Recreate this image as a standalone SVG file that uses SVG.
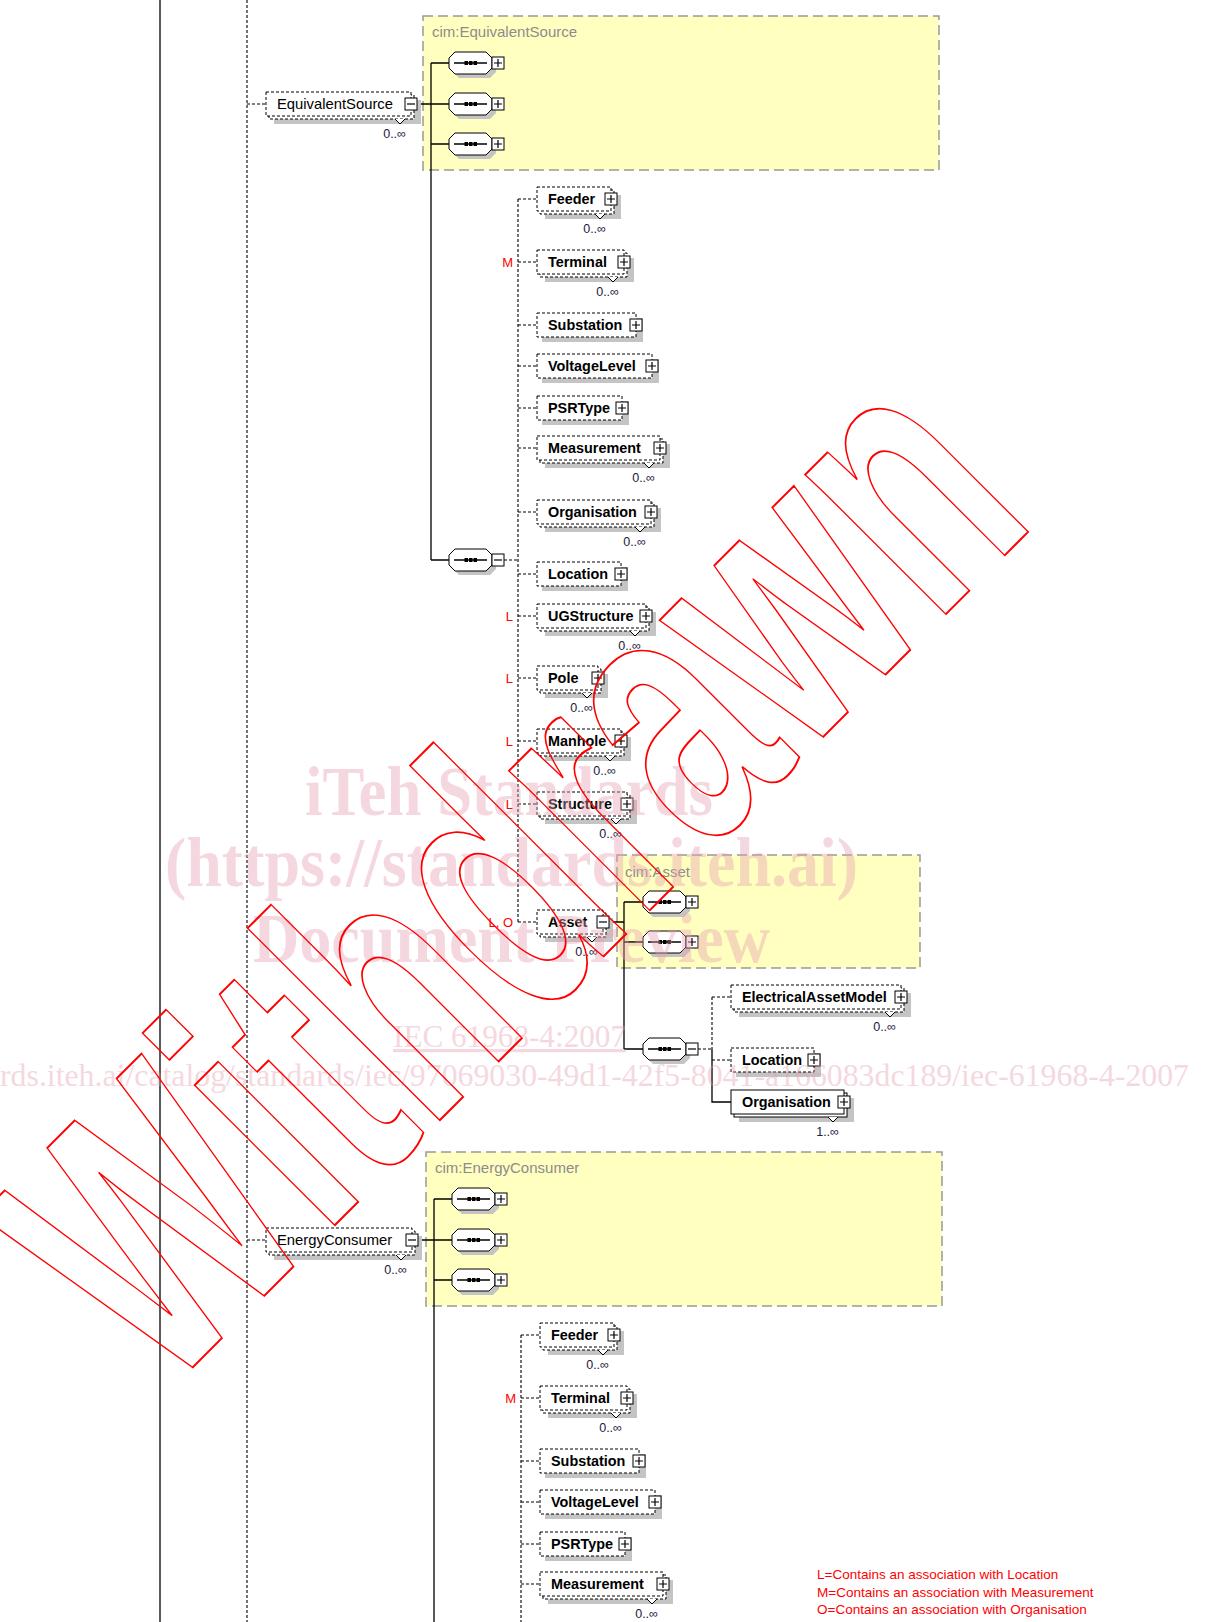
<svg xmlns="http://www.w3.org/2000/svg" xmlns:xlink="http://www.w3.org/1999/xlink" width="1208" height="1622" viewBox="0 0 1208 1622">
<style>
.sh{fill:#c4c4c4}
.fd{fill:#fff;stroke:#000;stroke-width:1;stroke-dasharray:3 2}
.fs{fill:#fff;stroke:#000;stroke-width:1}
.v{fill:#fff;stroke:#000;stroke-width:1}
.ln{fill:none;stroke:#000;stroke-width:1.3}
.dl{fill:none;stroke:#000;stroke-width:1.1;stroke-dasharray:3 2}
.nm{font-family:"Liberation Sans",Arial,sans-serif;font-weight:bold;font-size:14.4px;fill:#000}
.top{font-family:"Liberation Sans",Arial,sans-serif;font-size:14.8px;fill:#000}
.mul{font-family:"Liberation Sans",Arial,sans-serif;font-size:12.5px;fill:#202040;text-anchor:end}
.red{font-family:"Liberation Sans",Arial,sans-serif;font-size:13px;fill:#f00;text-anchor:end}
.grp{font-family:"Liberation Sans",Arial,sans-serif;font-size:15px;fill:#8c8c8c}
.yel{fill:#ffffc0;stroke:#999;stroke-width:1.5;stroke-dasharray:10 5}
.leg{font-family:"Liberation Sans",Arial,sans-serif;font-size:13.5px;fill:#f00}
.wm{font-family:"Liberation Serif","Times New Roman",serif;font-weight:bold;fill:#e8a0b0;opacity:0.4}
</style>
<defs>
<g id="plus"><rect x="-6" y="-6" width="12" height="12" fill="#fff" stroke="#000" stroke-width="1"/><path d="M-4 0H4M0 -4V4" stroke="#000" stroke-width="1.2"/></g>
<g id="minus"><rect x="-6" y="-6" width="12" height="12" fill="#fff" stroke="#000" stroke-width="1"/><path d="M-4 0H4" stroke="#000" stroke-width="1.2"/></g>
<g id="seq">
<polygon points="10,-7 41,-7 47,-1 47,9 41,15 10,15 4,9 4,-1" fill="#c4c4c4"/>
<polygon points="6,-11 37,-11 43,-5 43,5 37,11 6,11 0,5 0,-5" fill="#fff" stroke="#000" stroke-width="1"/>
<path d="M5 0H38" stroke="#000" stroke-width="1.3"/>
<rect x="15.5" y="-2" width="3.5" height="4" fill="#000"/><rect x="20" y="-2" width="3.5" height="4" fill="#000"/><rect x="24.5" y="-2" width="3.5" height="4" fill="#000"/>
</g>
</defs>
<rect width="1208" height="1622" fill="#fff"/>

<g id="frame-lines">
<path class="ln" d="M160 0V1622" stroke-width="1.5"/>
<path class="dl" d="M247 0V1622"/>
</g>

<g id="cim-EquivalentSource">
<rect class="yel" x="423" y="16" width="516" height="154"/>
<text class="grp" x="432" y="37">cim:EquivalentSource</text>
</g>
<g id="cim-Asset">
<rect class="yel" x="617" y="855" width="303" height="113"/>
<text class="grp" x="625" y="877">cim:Asset</text>
</g>
<g id="cim-EnergyConsumer">
<rect class="yel" x="426" y="1152" width="516" height="154"/>
<text class="grp" x="435" y="1173">cim:EnergyConsumer</text>
</g>

<g id="connectors">
<path class="dl" d="M247 104H266M247 1240H266"/>
<path class="ln" d="M417 104H449M431 63V560M431 63H449M431 144H449M431 560H449"/>
<path class="dl" d="M504 560H518M518 199V922"/>
<path class="dl" d="M518 199H537M518 262H537M518 325H537M518 366H537M518 408H537M518 448H537M518 512H537M518 574H537M518 616H537M518 678H537M518 741H537M518 804H537M518 922H537"/>
<path class="ln" d="M609 922H624M624 902V1049M624 902H643M624 942H643M624 1049H643"/>
<path class="dl" d="M698 1049H712M712 997V1049M712 997H731M712 1060H731"/>
<path class="ln" d="M712 1049V1102H731"/>
<path class="ln" d="M418 1240H452M434 1199V1622M434 1199H452M434 1280H452"/>
<path class="dl" d="M521 1335V1622M521 1335H540M521 1398H540M521 1461H540M521 1502H540M521 1544H540M521 1584H540"/>
</g>

<g id="seq-es-1"><use xlink:href="#seq" x="449" y="63"/><use xlink:href="#plus" x="498" y="63"/></g>
<g id="seq-es-2"><use xlink:href="#seq" x="449" y="104"/><use xlink:href="#plus" x="498" y="104"/></g>
<g id="seq-es-3"><use xlink:href="#seq" x="449" y="144"/><use xlink:href="#plus" x="498" y="144"/></g>
<g id="seq-es-4"><use xlink:href="#seq" x="449" y="560"/><use xlink:href="#minus" x="498" y="560"/></g>
<g id="seq-as-1"><use xlink:href="#seq" x="643" y="902"/><use xlink:href="#plus" x="692" y="902"/></g>
<g id="seq-as-2"><use xlink:href="#seq" x="643" y="942"/><use xlink:href="#plus" x="692" y="942"/></g>
<g id="seq-as-3"><use xlink:href="#seq" x="643" y="1049"/><use xlink:href="#minus" x="692" y="1049"/></g>
<g id="seq-ec-1"><use xlink:href="#seq" x="452" y="1199"/><use xlink:href="#plus" x="501" y="1199"/></g>
<g id="seq-ec-2"><use xlink:href="#seq" x="452" y="1240"/><use xlink:href="#plus" x="501" y="1240"/></g>
<g id="seq-ec-3"><use xlink:href="#seq" x="452" y="1280"/><use xlink:href="#plus" x="501" y="1280"/></g>

<g id="EquivalentSource">
<rect class="sh" x="274" y="100" width="147" height="24"/>
<rect class="fd" x="269" y="95" width="145" height="24"/>
<rect class="fd" x="266" y="92" width="145" height="24"/>
<path class="v" d="M395 119L400 124L405 119"/>
<text class="top" x="277" y="109">EquivalentSource</text>
<use xlink:href="#minus" x="411" y="104"/>
<text class="mul" x="406" y="138">0..∞</text>
</g>

<g id="es-Feeder">
<rect class="sh" x="545" y="195" width="76" height="24"/>
<rect class="fd" x="540" y="190" width="74" height="24"/>
<rect class="fd" x="537" y="187" width="74" height="24"/>
<path class="v" d="M595 214L600 219L605 214"/>
<text class="nm" x="548" y="204">Feeder</text>
<use xlink:href="#plus" x="611" y="199"/>
<text class="mul" x="606" y="233">0..∞</text>
</g>
<g id="es-Terminal">
<rect class="sh" x="545" y="258" width="89" height="24"/>
<rect class="fd" x="540" y="253" width="87" height="24"/>
<rect class="fd" x="537" y="250" width="87" height="24"/>
<path class="v" d="M608 277L613 282L618 277"/>
<text class="nm" x="548" y="267">Terminal</text>
<use xlink:href="#plus" x="624" y="262"/>
<text class="mul" x="619" y="296">0..∞</text>
<text class="red" x="513" y="267">M</text>
</g>
<g id="es-Substation">
<rect class="sh" x="542" y="318" width="101" height="24"/>
<rect class="fd" x="537" y="313" width="99" height="24"/>
<text class="nm" x="548" y="330">Substation</text>
<use xlink:href="#plus" x="636" y="325"/>
</g>
<g id="es-VoltageLevel">
<rect class="sh" x="542" y="359" width="117" height="24"/>
<rect class="fd" x="537" y="354" width="115" height="24"/>
<text class="nm" x="548" y="371">VoltageLevel</text>
<use xlink:href="#plus" x="652" y="366"/>
</g>
<g id="es-PSRType">
<rect class="sh" x="542" y="401" width="87" height="24"/>
<rect class="fd" x="537" y="396" width="85" height="24"/>
<text class="nm" x="548" y="413">PSRType</text>
<use xlink:href="#plus" x="622" y="408"/>
</g>
<g id="es-Measurement">
<rect class="sh" x="545" y="444" width="125" height="24"/>
<rect class="fd" x="540" y="439" width="123" height="24"/>
<rect class="fd" x="537" y="436" width="123" height="24"/>
<path class="v" d="M644 463L649 468L654 463"/>
<text class="nm" x="548" y="453">Measurement</text>
<use xlink:href="#plus" x="660" y="448"/>
<text class="mul" x="655" y="482">0..∞</text>
</g>
<g id="es-Organisation">
<rect class="sh" x="545" y="508" width="116" height="24"/>
<rect class="fd" x="540" y="503" width="114" height="24"/>
<rect class="fd" x="537" y="500" width="114" height="24"/>
<path class="v" d="M635 527L640 532L645 527"/>
<text class="nm" x="548" y="517">Organisation</text>
<use xlink:href="#plus" x="651" y="512"/>
<text class="mul" x="646" y="546">0..∞</text>
</g>
<g id="es-Location">
<rect class="sh" x="542" y="567" width="86" height="24"/>
<rect class="fd" x="537" y="562" width="84" height="24"/>
<text class="nm" x="548" y="579">Location</text>
<use xlink:href="#plus" x="621" y="574"/>
</g>
<g id="es-UGStructure">
<rect class="sh" x="545" y="612" width="111" height="24"/>
<rect class="fd" x="540" y="607" width="109" height="24"/>
<rect class="fd" x="537" y="604" width="109" height="24"/>
<path class="v" d="M630 631L635 636L640 631"/>
<text class="nm" x="548" y="621">UGStructure</text>
<use xlink:href="#plus" x="646" y="616"/>
<text class="mul" x="641" y="650">0..∞</text>
<text class="red" x="513" y="621">L</text>
</g>
<g id="es-Pole">
<rect class="sh" x="545" y="674" width="63" height="24"/>
<rect class="fd" x="540" y="669" width="61" height="24"/>
<rect class="fd" x="537" y="666" width="61" height="24"/>
<path class="v" d="M582 693L587 698L592 693"/>
<text class="nm" x="548" y="683">Pole</text>
<use xlink:href="#plus" x="598" y="678"/>
<text class="mul" x="593" y="712">0..∞</text>
<text class="red" x="513" y="683">L</text>
</g>
<g id="es-Manhole">
<rect class="sh" x="545" y="737" width="86" height="24"/>
<rect class="fd" x="540" y="732" width="84" height="24"/>
<rect class="fd" x="537" y="729" width="84" height="24"/>
<path class="v" d="M605 756L610 761L615 756"/>
<text class="nm" x="548" y="746">Manhole</text>
<use xlink:href="#plus" x="621" y="741"/>
<text class="mul" x="616" y="775">0..∞</text>
<text class="red" x="513" y="746">L</text>
</g>
<g id="es-Structure">
<rect class="sh" x="545" y="800" width="92" height="24"/>
<rect class="fd" x="540" y="795" width="90" height="24"/>
<rect class="fd" x="537" y="792" width="90" height="24"/>
<path class="v" d="M611 819L616 824L621 819"/>
<text class="nm" x="548" y="809">Structure</text>
<use xlink:href="#plus" x="627" y="804"/>
<text class="mul" x="622" y="838">0..∞</text>
<text class="red" x="513" y="809">L</text>
</g>
<g id="es-Asset">
<rect class="sh" x="545" y="918" width="68" height="24"/>
<rect class="fd" x="540" y="913" width="66" height="24"/>
<rect class="fd" x="537" y="910" width="66" height="24"/>
<path class="v" d="M587 937L592 942L597 937"/>
<text class="nm" x="548" y="927">Asset</text>
<use xlink:href="#minus" x="603" y="922"/>
<text class="mul" x="598" y="956">0..∞</text>
<text class="red" x="513" y="927">L, O</text>
</g>
<g id="as-ElectricalAssetModel">
<rect class="sh" x="739" y="993" width="172" height="24"/>
<rect class="fd" x="734" y="988" width="170" height="24"/>
<rect class="fd" x="731" y="985" width="170" height="24"/>
<path class="v" d="M885 1012L890 1017L895 1012"/>
<text class="nm" x="742" y="1002">ElectricalAssetModel</text>
<use xlink:href="#plus" x="901" y="997"/>
<text class="mul" x="896" y="1031">0..∞</text>
</g>
<g id="as-Location">
<rect class="sh" x="736" y="1053" width="85" height="24"/>
<rect class="fd" x="731" y="1048" width="83" height="24"/>
<text class="nm" x="742" y="1065">Location</text>
<use xlink:href="#plus" x="814" y="1060"/>
</g>
<g id="as-Organisation">
<rect class="sh" x="739" y="1098" width="115" height="24"/>
<rect class="fs" x="734" y="1093" width="113" height="24"/>
<rect class="fs" x="731" y="1090" width="113" height="24"/>
<path class="v" d="M828 1117L833 1122L838 1117"/>
<text class="nm" x="742" y="1107">Organisation</text>
<use xlink:href="#plus" x="844" y="1102"/>
<text class="mul" x="839" y="1136">1..∞</text>
</g>

<g id="EnergyConsumer">
<rect class="sh" x="274" y="1236" width="148" height="24"/>
<rect class="fd" x="269" y="1231" width="146" height="24"/>
<rect class="fd" x="266" y="1228" width="146" height="24"/>
<path class="v" d="M396 1255L401 1260L406 1255"/>
<text class="top" x="277" y="1245">EnergyConsumer</text>
<use xlink:href="#minus" x="412" y="1240"/>
<text class="mul" x="407" y="1274">0..∞</text>
</g>

<g transform="translate(3,1136)">
<g id="ec-Feeder">
<rect class="sh" x="545" y="195" width="76" height="24"/>
<rect class="fd" x="540" y="190" width="74" height="24"/>
<rect class="fd" x="537" y="187" width="74" height="24"/>
<path class="v" d="M595 214L600 219L605 214"/>
<text class="nm" x="548" y="204">Feeder</text>
<use xlink:href="#plus" x="611" y="199"/>
<text class="mul" x="606" y="233">0..∞</text>
</g>
<g id="ec-Terminal">
<rect class="sh" x="545" y="258" width="89" height="24"/>
<rect class="fd" x="540" y="253" width="87" height="24"/>
<rect class="fd" x="537" y="250" width="87" height="24"/>
<path class="v" d="M608 277L613 282L618 277"/>
<text class="nm" x="548" y="267">Terminal</text>
<use xlink:href="#plus" x="624" y="262"/>
<text class="mul" x="619" y="296">0..∞</text>
<text class="red" x="513" y="267">M</text>
</g>
<g id="ec-Substation">
<rect class="sh" x="542" y="318" width="101" height="24"/>
<rect class="fd" x="537" y="313" width="99" height="24"/>
<text class="nm" x="548" y="330">Substation</text>
<use xlink:href="#plus" x="636" y="325"/>
</g>
<g id="ec-VoltageLevel">
<rect class="sh" x="542" y="359" width="117" height="24"/>
<rect class="fd" x="537" y="354" width="115" height="24"/>
<text class="nm" x="548" y="371">VoltageLevel</text>
<use xlink:href="#plus" x="652" y="366"/>
</g>
<g id="ec-PSRType">
<rect class="sh" x="542" y="401" width="87" height="24"/>
<rect class="fd" x="537" y="396" width="85" height="24"/>
<text class="nm" x="548" y="413">PSRType</text>
<use xlink:href="#plus" x="622" y="408"/>
</g>
<g id="ec-Measurement">
<rect class="sh" x="545" y="444" width="125" height="24"/>
<rect class="fd" x="540" y="439" width="123" height="24"/>
<rect class="fd" x="537" y="436" width="123" height="24"/>
<path class="v" d="M644 463L649 468L654 463"/>
<text class="nm" x="548" y="453">Measurement</text>
<use xlink:href="#plus" x="660" y="448"/>
<text class="mul" x="655" y="482">0..∞</text>
</g>
</g>

<g id="legend">
<text class="leg" x="817" y="1579">L=Contains an association with Location</text>
<text class="leg" x="817" y="1596.5">M=Contains an association with Measurement</text>
<text class="leg" x="817" y="1614">O=Contains an association with Organisation</text>
</g>

<g id="watermark">
<text class="wm" x="305" y="815" font-size="70" textLength="408" lengthAdjust="spacingAndGlyphs">iTeh Standards</text>
<text class="wm" x="165" y="886" font-size="70" textLength="693" lengthAdjust="spacingAndGlyphs">(https://standards.iteh.ai)</text>
<text class="wm" x="253" y="962" font-size="70" textLength="517" lengthAdjust="spacingAndGlyphs">Document Preview</text>
<text class="wm" x="393" y="1047" font-size="32" textLength="233" lengthAdjust="spacingAndGlyphs" text-decoration="underline" style="font-weight:normal">IEC 61968-4:2007</text>
<text class="wm" x="0" y="1086" font-size="32" textLength="1189" lengthAdjust="spacingAndGlyphs" style="font-weight:normal">rds.iteh.ai/catalog/standards/iec/97069030-49d1-42f5-8041-a166083dc189/iec-61968-4-2007</text>
<text x="162" y="1398" transform="rotate(-45 162 1398)" font-family="Liberation Sans,Arial,sans-serif" font-weight="bold" font-size="375" textLength="1240" lengthAdjust="spacingAndGlyphs" fill="none" stroke="#f00" stroke-width="2">Withdrawn</text>
</g>
</svg>
